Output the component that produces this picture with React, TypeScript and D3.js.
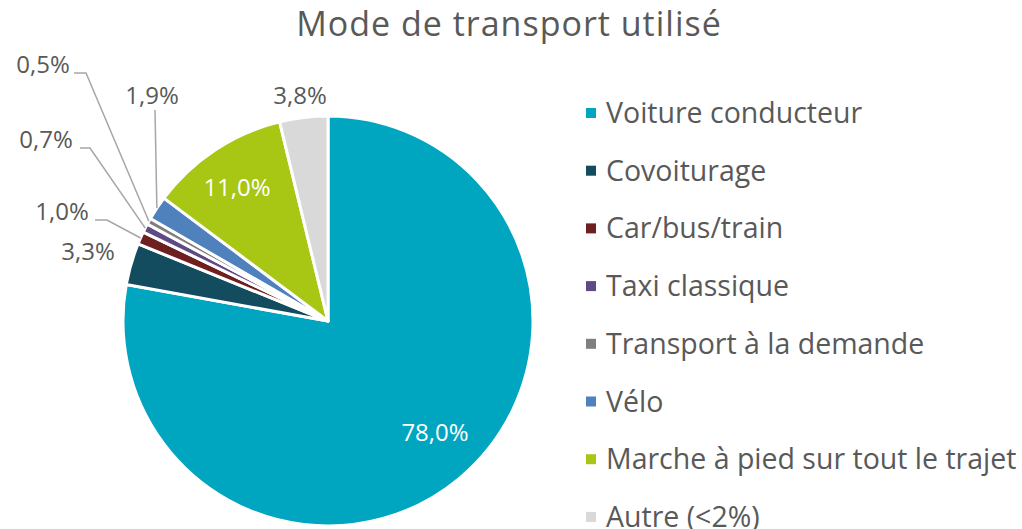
import React from "react";
import * as d3 from "d3";

const categories = [
  "Voiture conducteur",
  "Covoiturage",
  "Car/bus/train",
  "Taxi classique",
  "Transport à la demande",
  "Vélo",
  "Marche à pied sur tout le trajet",
  "Autre (<2%)",
];
const values = [78.0, 3.3, 1.0, 0.7, 0.5, 1.9, 11.0, 3.8];
const labels = ["78,0%", "3,3%", "1,0%", "0,7%", "0,5%", "1,9%", "11,0%", "3,8%"];
const colors = ["#00A5C0", "#134B5F", "#6E1F1F", "#5F4A86", "#7F7F7F", "#4F81BD", "#A8C614", "#D9D9D9"];

// label layout: inside (white) / outside with optional leader elbow
const labelLayout: { mode: string; x?: number; y?: number; ex?: number; ey?: number; hx?: number }[] = [
  { mode: "inside", x: 435, y: 432 },
  { mode: "free", x: 88, y: 251 },
  { mode: "leader", x: 62, y: 211, ex: 107, ey: 220, hx: 95 },
  { mode: "leader", x: 46, y: 139, ex: 90, ey: 148, hx: 80 },
  { mode: "leader", x: 43, y: 64, ex: 86, ey: 73, hx: 74 },
  { mode: "vleader", x: 152, y: 95, ex: 155, ey: 110 },
  { mode: "inside", x: 237, y: 187 },
  { mode: "free", x: 300, y: 95 },
];

const W = 1022, H = 529;
const cx = 328, cy = 321, R = 205;
const textColor = "#595959";
const font = "'Open Sans', sans-serif";

export default function App() {
  const pie = d3.pie<number>().sort(null).value((d) => d);
  const arcs = pie(values);
  const arc = d3.arc<d3.PieArcDatum<number>>().innerRadius(0).outerRadius(R);

  return (
    <svg width={W} height={H} style={{ position: "absolute", left: 0, top: 0, background: "#fff" }}>
      <text x={509} y={36} textAnchor="middle" fontFamily={font} fontSize={34} letterSpacing={1} fill={textColor}>
        Mode de transport utilisé
      </text>
      <g transform={`translate(${cx},${cy})`}>
        {arcs.map((a, i) => (
          <path key={i} d={arc(a) || ""} fill={colors[i]} stroke="#fff" strokeWidth={3} strokeLinejoin="round" />
        ))}
      </g>
      {arcs.map((a, i) => {
        const L = labelLayout[i];
        const mid = (a.startAngle + a.endAngle) / 2;
        const px = cx + Math.sin(mid) * R;
        const py = cy - Math.cos(mid) * R;
        const els: React.ReactNode[] = [];
        if (L.mode === "leader") {
          els.push(
            <polyline key="l" points={`${L.hx},${L.ey} ${L.ex},${L.ey} ${px},${py}`} fill="none" stroke="#A6A6A6" strokeWidth={1.5} />
          );
        } else if (L.mode === "vleader") {
          els.push(
            <polyline key="l" points={`${L.ex},${L.ey} ${px},${py}`} fill="none" stroke="#A6A6A6" strokeWidth={1.5} />
          );
        }
        els.push(
          <text key="t" x={L.x} y={(L.y as number) + 8.5} textAnchor="middle" fontFamily={font} fontSize={24}
            fill={L.mode === "inside" ? "#fff" : textColor}>
            {labels[i]}
          </text>
        );
        return <g key={i}>{els}</g>;
      })}
      {categories.map((c, i) => {
        const y = 113 + i * 57.7;
        return (
          <g key={c}>
            <rect x={586} y={y - 5} width={10} height={10} fill={colors[i]} />
            <text x={606} y={y + 10} fontFamily={font} fontSize={28.5} fill={textColor}>{c}</text>
          </g>
        );
      })}
    </svg>
  );
}
